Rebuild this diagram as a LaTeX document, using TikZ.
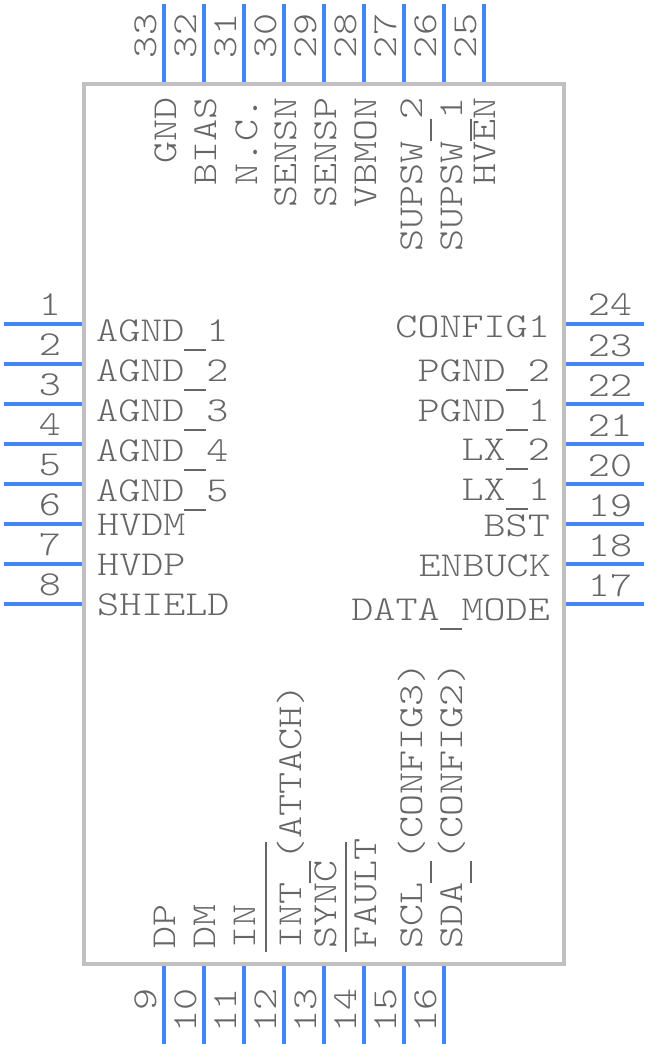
\documentclass[tikz,border=0pt]{standalone}
\usepackage{fontspec}
\setmonofont[FakeStretch=1.2]{Latin Modern Mono Light}
\usetikzlibrary{positioning}
\definecolor{pinblue}{HTML}{4287F5}
\definecolor{bodygray}{HTML}{C0C0C0}
\definecolor{textgray}{HTML}{666666}
\tikzset{
  pinline/.style={draw=pinblue,line width=4pt},
  barline/.style={draw=textgray,line width=2pt},
  chipbody/.style={draw=bodygray,line width=4pt,minimum width=480pt,minimum height=880pt,inner sep=0pt},
  pintext/.style={text=textgray,inner sep=0pt,font=\fontsize{35pt}{35pt}\selectfont\ttfamily},
  pinnum/.style={pintext,anchor=base},
  leftname/.style={pintext,anchor=base west},
  rightname/.style={pintext,anchor=base east},
  upname/.style={pintext,rotate=90,anchor=base east},
  upstart/.style={pintext,rotate=90,anchor=base west}
}
\newcommand{\lowbar}{\rule[-9.5pt]{22pt}{2pt}}
\begin{document}
\begin{tikzpicture}[x=1pt,y=-1pt]
  \useasboundingbox (0,0) rectangle (648,1048);
  \node[chipbody] (chip) at (324,524) {};
  % left and right pins
  \foreach \n/\yy in {1/324,2/364,3/404,4/444,5/484,6/524,7/564,8/604} {
    \coordinate (pin\n a) at (4,\yy);
    \coordinate (pin\n b) at (82,\yy);
    \draw[pinline] (pin\n a) -- (pin\n b);
    \node[pinnum] (num\n) at (50,\yy-9) {\n};
  }
  \foreach \n/\yy in {24/324,23/364,22/404,21/444,20/484,19/524,18/564,17/604} {
    \coordinate (pin\n a) at (644,\yy);
    \coordinate (pin\n b) at (566,\yy);
    \draw[pinline] (pin\n a) -- (pin\n b);
    \node[pinnum] (num\n) at (610,\yy-8) {\n};
  }
  % top and bottom pins
  \foreach \n/\xx in {33/164,32/204,31/244,30/284,29/324,28/364,27/404,26/444,25/484} {
    \coordinate (pin\n a) at (\xx,4);
    \coordinate (pin\n b) at (\xx,82);
    \draw[pinline] (pin\n a) -- (pin\n b);
    \node[pintext,rotate=90,anchor=base] (num\n) at (\xx-8,36) {\n};
  }
  \foreach \n/\xx in {9/164,10/204,11/244,12/284,13/324,14/364,15/404,16/444} {
    \coordinate (pin\n a) at (\xx,1044);
    \coordinate (pin\n b) at (\xx,966);
    \draw[pinline] (pin\n a) -- (pin\n b);
    \node[upname] (num\n) at (\xx-8,988) {\n};
  }
  % left names
  \node[leftname] (agnda) at (96,341) {AGND\lowbar 1};
  \node[leftname] (agndb) at (96,381) {AGND\lowbar 2};
  \node[leftname] (agndc) at (96,421) {AGND\lowbar 3};
  \node[leftname] (agndd) at (96,461) {AGND\lowbar 4};
  \node[leftname] (agnde) at (96,501) {AGND\lowbar 5};
  \node[leftname] (hvdm) at (97,535) {HVDM};
  \node[leftname] (hvdp) at (97,575) {HVDP};
  \node[leftname] (shield) at (97,615) {SHIELD};
  % right names
  \node[rightname] (configa) at (550,337) {CONFIG1};
  \node[rightname] (pgndb) at (550,381) {PGND\lowbar 2};
  \node[rightname] (pgnda) at (550,421) {PGND\lowbar 1};
  \node[rightname] (lxb) at (550,460) {LX\lowbar 2};
  \node[rightname] (lxa) at (550,500) {LX\lowbar 1};
  \node[rightname] (bst) at (550,536) {BST};
  \node[rightname] (enbuck) at (551,576) {ENBUCK};
  \node[rightname] (datamode) at (550,620) {DATA\lowbar MODE};
  % top names
  \node[upname] (gnd) at (176,97) {GND};
  \node[upname] (bias) at (216,97) {BIAS};
  \node[upname] (nc) at (257,97) {N.C.};
  \node[upname] (sensn) at (296,97) {SENSN};
  \node[upname] (sensp) at (336,97) {SENSP};
  \node[upname] (vbmon) at (376,97) {VBMON};
  \node[upname] (supswb) at (422,97) {SUPSW\lowbar 2};
  \node[upname] (supswa) at (462,97) {SUPSW\lowbar 1};
  \node[upname] (hven) at (495,97) {HVEN};
  % bottom names
  \node[upstart] (dp) at (175,949) {DP};
  \node[upstart] (dm) at (215,949) {DM};
  \node[upstart] (in) at (255,949) {IN};
  \node[upstart] (int) at (301,949) {INT\lowbar (ATTACH)};
  \node[upstart] (sync) at (336,949) {SYNC};
  \node[upstart] (fault) at (376,949) {FAULT};
  \node[upstart] (scl) at (422,949) {SCL\lowbar (CONFIG3)};
  \node[upstart] (sda) at (462,949) {SDA\lowbar (CONFIG2)};
  \coordinate (intbara) at (266,952);
  \coordinate (intbarb) at (266,842);
  \coordinate (faultbara) at (346,952);
  \coordinate (faultbarb) at (346,842);
  \draw[barline] (intbara) -- (intbarb);
  \draw[barline] (faultbara) -- (faultbarb);
\end{tikzpicture}
\end{document}
